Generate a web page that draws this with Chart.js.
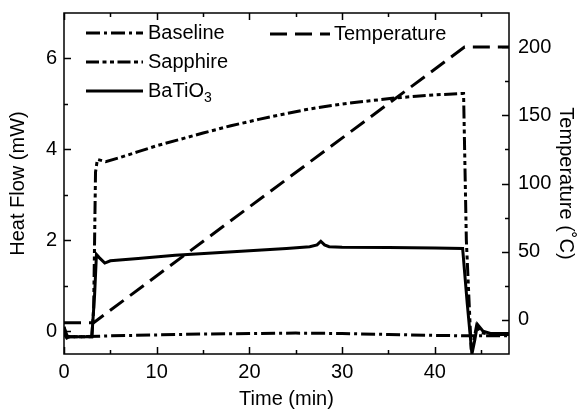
<!DOCTYPE html>
<html>
<head>
<meta charset="utf-8">
<script src="https://cdn.jsdelivr.net/npm/chart.js@4/dist/chart.umd.min.js"></script>
<style>
html,body{margin:0;padding:0;background:#fff;}
canvas{display:block;}
</style>
</head>
<body>
<canvas id="c" width="582" height="414"></canvas>
<script>
// ---- data ----
const baselineTime = [0, 0.3, 0.6, 2, 5, 10, 15, 20, 25, 30, 35, 40, 43, 44, 46, 48];
const baselineFlow = [-0.05, -0.15, -0.12, -0.12, -0.1, -0.08, -0.06, -0.05, -0.04, -0.05, -0.07, -0.09, -0.1, -0.1, -0.1, -0.1];

const sapphireTime = [0, 0.3, 0.6, 3.0, 3.2, 3.4, 3.6, 4.5, 6, 8, 10, 12.5, 15, 18, 21, 23.3, 26, 28, 30.5, 33, 35.7, 38, 40, 43.1, 43.4, 43.9, 44.2, 44.5, 45, 46, 48];
const sapphireFlow = [0.1, -0.1, -0.12, -0.12, 0.5, 3.5, 3.78, 3.73, 3.82, 3.95, 4.08, 4.22, 4.36, 4.52, 4.66, 4.76, 4.87, 4.94, 5.01, 5.07, 5.13, 5.17, 5.2, 5.23, 2.0, -0.3, -0.2, 0.12, -0.03, -0.07, -0.07];

const batioTime = [0, 0.3, 0.6, 3.0, 3.3, 3.5, 3.8, 4.4, 5, 8, 12, 16, 20, 24, 26.5, 27.3, 27.7, 28.1, 28.6, 30, 35, 40, 43.0, 43.5, 44.0, 44.3, 44.6, 45.2, 46, 48];
const batioFlow = [0.08, -0.1, -0.12, -0.12, 0.8, 1.69, 1.62, 1.5, 1.55, 1.6, 1.67, 1.72, 1.77, 1.82, 1.86, 1.9, 1.98, 1.9, 1.86, 1.85, 1.84, 1.83, 1.82, 0.6, -0.5, -0.2, 0.15, 0.0, -0.05, -0.05];

const tempTime = [0, 3.2, 43.2, 48];
const tempValues = [-2, -2, 200, 200];

const xTickLabels = [0, 10, 20, 30, 40];
const xMinorTicks = [5, 15, 25, 35, 45];
const yTickLabels = [0, 2, 4, 6];
const yMinorTicks = [1, 3, 5];
const y2TickLabels = [0, 50, 100, 150, 200];
const y2MinorTicks = [25, 75, 125, 175];

const seriesLabels = ['Baseline', 'Sapphire', 'BaTiO\u2083', 'Temperature'];

// ---- build ----
const pts = (t, v) => t.map((x, i) => ({x: x, y: v[i]}));
const FONT = "'Liberation Sans', Arial, Helvetica, sans-serif";

const dashes = {
  Baseline: [14, 4, 3, 4],
  Sapphire: [13, 3.5, 4, 3.5, 4, 3.5],
  Temperature: [17, 8]
};

function ds(label, data, axis, dash) {
  return {
    label: label, data: data, yAxisID: axis,
    borderColor: '#000', backgroundColor: '#000', borderWidth: 3,
    borderDash: dash || [], pointRadius: 0, tension: 0, fill: false,
    borderCapStyle: 'butt', borderJoinStyle: 'miter'
  };
}

const fixTicks = arr => scale => { scale.ticks = arr.map(v => ({value: v})); };
const fitTo = (w, h) => s => {
  if (w !== null) s.width = w;
  if (h !== null) s.height = h;
  s.paddingTop = 0; s.paddingBottom = 0; s.paddingLeft = 0; s.paddingRight = 0;
};

const frameTicks = {
  id: 'frameTicks',
  afterDatasetsDraw(chart) {
    const {ctx, chartArea: a, scales} = chart;
    const MAJ = 7, MIN = 4;
    ctx.save();
    ctx.strokeStyle = '#000';
    ctx.lineWidth = 1.5;
    ctx.setLineDash([]);
    ctx.strokeRect(a.left, a.top, a.right - a.left, a.bottom - a.top);
    ctx.beginPath();
    const xt = (vals, len) => vals.forEach(v => {
      const p = Math.round(scales.x.getPixelForValue(v)) + 0.5;
      ctx.moveTo(p, a.bottom); ctx.lineTo(p, a.bottom - len);
      ctx.moveTo(p, a.top); ctx.lineTo(p, a.top + len);
    });
    const yl = (vals, len) => vals.forEach(v => {
      const p = Math.round(scales.y.getPixelForValue(v)) + 0.5;
      ctx.moveTo(a.left, p); ctx.lineTo(a.left + len, p);
    });
    const yr = (vals, len) => vals.forEach(v => {
      const p = Math.round(scales.y2.getPixelForValue(v)) + 0.5;
      ctx.moveTo(a.right, p); ctx.lineTo(a.right - len, p);
    });
    xt(xTickLabels, MAJ); xt(xMinorTicks, MIN);
    yl(yTickLabels, MAJ); yl(yMinorTicks, MIN);
    yr(y2TickLabels, MAJ); yr(y2MinorTicks, MIN);
    ctx.stroke();
    ctx.restore();
  },
  afterDraw(chart) {
    const ctx = chart.ctx;
    const pos = [
      {x1: 86, x2: 143, tx: 148, y: 33},
      {x1: 86, x2: 143, tx: 148, y: 62},
      {x1: 86, x2: 143, tx: 148, y: 91},
      {x1: 270, x2: 330, tx: 334, y: 34}
    ];
    ctx.save();
    chart.data.datasets.forEach((d, i) => {
      const p = pos[i];
      ctx.strokeStyle = '#000';
      ctx.lineWidth = 3;
      ctx.lineCap = 'butt';
      ctx.setLineDash(d.borderDash);
      ctx.beginPath();
      ctx.moveTo(p.x1, p.y); ctx.lineTo(p.x2, p.y);
      ctx.stroke();
      ctx.setLineDash([]);
      ctx.fillStyle = '#000';
      ctx.textBaseline = 'middle';
      ctx.textAlign = 'left';
      ctx.font = '20px ' + FONT;
      const lab = d.label;
      if (lab.endsWith('\u2083')) {
        const base = lab.slice(0, -1);
        ctx.fillText(base, p.tx, p.y);
        const w = ctx.measureText(base).width;
        ctx.font = '14px ' + FONT;
        ctx.fillText('3', p.tx + w, p.y + 7);
      } else {
        ctx.fillText(lab, p.tx, p.y);
      }
    });
    ctx.restore();
  }
};

new Chart(document.getElementById('c'), {
  type: 'line',
  data: {
    datasets: [
      ds(seriesLabels[0], pts(baselineTime, baselineFlow), 'y', dashes.Baseline),
      ds(seriesLabels[1], pts(sapphireTime, sapphireFlow), 'y', dashes.Sapphire),
      ds(seriesLabels[2], pts(batioTime, batioFlow), 'y', []),
      ds(seriesLabels[3], pts(tempTime, tempValues), 'y2', dashes.Temperature)
    ]
  },
  options: {
    responsive: false,
    animation: false,
    devicePixelRatio: 1,
    layout: {padding: {top: 13, left: 0, right: 0, bottom: 0}},
    plugins: {legend: {display: false}, tooltip: {enabled: false}},
    scales: {
      x: {
        type: 'linear', position: 'bottom', min: 0, max: 48,
        grid: {display: false, drawTicks: false, tickLength: 0}, border: {display: false},
        afterBuildTicks: fixTicks(xTickLabels),
        afterFit: fitTo(null, 60),
        ticks: {color: '#000', font: {family: FONT, size: 20}, padding: 6, maxRotation: 0},
        title: {display: true, text: 'Time (min)', color: '#000', font: {family: FONT, size: 20}, padding: {top: 0, bottom: 3}}
      },
      y: {
        type: 'linear', position: 'left', min: -0.5, max: 7,
        grid: {display: false, drawTicks: false, tickLength: 0}, border: {display: false},
        afterBuildTicks: fixTicks(yTickLabels),
        afterFit: fitTo(64, null),
        ticks: {color: '#000', font: {family: FONT, size: 20}, padding: 7},
        title: {display: true, text: 'Heat Flow (mW)', color: '#000', font: {family: FONT, size: 20}, padding: {top: 6, bottom: 0}}
      },
      y2: {
        type: 'linear', position: 'right', min: -25, max: 225,
        grid: {display: false, drawTicks: false, tickLength: 0}, border: {display: false},
        afterBuildTicks: fixTicks(y2TickLabels),
        afterFit: fitTo(73, null),
        ticks: {color: '#000', font: {family: FONT, size: 20}, padding: 9},
        title: {display: true, text: 'Temperature (\u02DAC)', color: '#000', font: {family: FONT, size: 20}, padding: {top: 4, bottom: 0}}
      }
    }
  },
  plugins: [frameTicks]
});
</script>
</body>
</html>
